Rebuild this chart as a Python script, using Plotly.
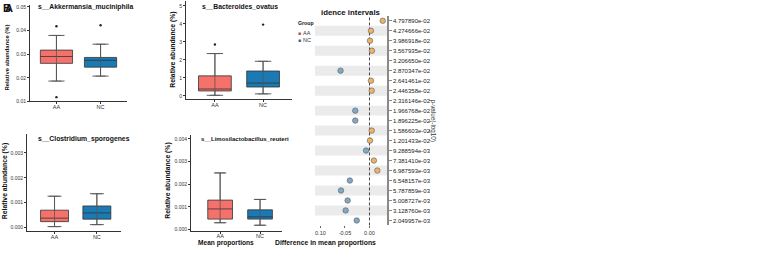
import plotly.graph_objects as go

W, H = 772, 257
FONT = "Liberation Sans, Arial, sans-serif"

# ---------------- data ----------------
groups = ["AA", "NC"]

akk_q1 = [0.0261, 0.0245]
akk_median = [0.0290, 0.0274]
akk_q3 = [0.0317, 0.0286]
akk_lower = [0.0186, 0.0207]
akk_upper = [0.0379, 0.0342]
akk_out_group = ["AA", "AA", "NC"]
akk_out_value = [0.0418, 0.0118, 0.0422]

bac_q1 = [0.27, 0.49]
bac_median = [0.38, 0.71]
bac_q3 = [1.11, 1.38]
bac_lower = [0.03, 0.11]
bac_upper = [2.35, 1.92]
bac_out_group = ["AA", "NC"]
bac_out_value = [2.85, 3.96]

clo_q1 = [0.00024, 0.00034]
clo_median = [0.00038, 0.00059]
clo_q3 = [0.00070, 0.00087]
clo_lower = [0.00004, 0.00012]
clo_upper = [0.00126, 0.00136]

lim_q1 = [0.00046, 0.00046]
lim_median = [0.00091, 0.00056]
lim_q3 = [0.00130, 0.00087]
lim_lower = [0.00030, 0.00019]
lim_upper = [0.00250, 0.00133]

pval_labels = [
    "4.797890e-02", "4.274666e-02", "3.986918e-02", "3.567935e-02",
    "3.206650e-02", "2.870347e-02", "2.641461e-02", "2.446358e-02",
    "2.316146e-02", "1.966768e-02", "1.896225e-02", "1.586603e-02",
    "1.201433e-02", "9.288594e-03", "7.381410e-03", "6.987593e-03",
    "6.548157e-03", "5.787859e-03", "5.008727e-03", "3.128760e-03",
    "2.049957e-03",
]
mean_diff = [
    0.027, 0.003, 0.001, 0.005, None, -0.059, 0.003, 0.0045, None,
    -0.029, -0.029, 0.0045, 0.001, -0.007, 0.009, 0.016, -0.040,
    -0.058, -0.0445, -0.0486, -0.026,
]
diff_ticks = [-0.10, -0.05, 0.00]
diff_ticktext = ["0.10", "-0.05", "0.00"]

# ---------------- styling ----------------
box_fill = {"AA": "#F4726B", "NC": "#1B7AB3"}
dot_pos = "#EDB368"
dot_neg = "#7FA9C8"


def dom_x(a, b):
    return [a / W, b / W]


def dom_y(top, bottom):
    return [1 - bottom / H, 1 - top / H]


fig = go.Figure()


def add_box_panel(n, q1, med, q3, lo, hi, bw, out_g=None, out_v=None):
    xa = "x" if n == 1 else f"x{n}"
    ya = "y" if n == 1 else f"y{n}"
    # whisker caps
    fig.add_trace(go.Scatter(
        x=groups, y=med, mode="markers", xaxis=xa, yaxis=ya,
        marker=dict(size=1, opacity=0), showlegend=False, hoverinfo="skip",
        error_y=dict(type="data", symmetric=False,
                     array=[h - m for h, m in zip(hi, med)],
                     arrayminus=[m - l for m, l in zip(med, lo)],
                     width=5, thickness=0.8, color="#555555"),
    ))
    for i, g in enumerate(groups):
        fig.add_trace(go.Box(
            x=[g], q1=[q1[i]], median=[med[i]], q3=[q3[i]],
            lowerfence=[lo[i]], upperfence=[hi[i]],
            xaxis=xa, yaxis=ya, width=bw, boxpoints=False,
            fillcolor=box_fill[g], line=dict(color="#333333", width=0.8),
            showlegend=False, hoverinfo="skip",
        ))
    if out_g:
        fig.add_trace(go.Scatter(
            x=out_g, y=out_v, mode="markers", xaxis=xa, yaxis=ya,
            marker=dict(size=2.4, color="#222222"), showlegend=False,
            hoverinfo="skip",
        ))


add_box_panel(1, akk_q1, akk_median, akk_q3, akk_lower, akk_upper, 0.73,
              akk_out_group, akk_out_value)
add_box_panel(2, bac_q1, bac_median, bac_q3, bac_lower, bac_upper, 0.68,
              bac_out_group, bac_out_value)
add_box_panel(3, clo_q1, clo_median, clo_q3, clo_lower, clo_upper, 0.66)
add_box_panel(4, lim_q1, lim_median, lim_q3, lim_lower, lim_upper, 0.62)

# difference dot plot
dot_colors = [dot_pos if (d is not None and d >= 0) else dot_neg for d in mean_diff]
fig.add_trace(go.Scatter(
    x=mean_diff, y=pval_labels, mode="markers", xaxis="x5", yaxis="y5",
    marker=dict(size=5.5, color=dot_colors, line=dict(color="#5a5a5a", width=0.6)),
    showlegend=False, hoverinfo="skip",
))

axis_common = dict(showline=True, linecolor="#333333", linewidth=0.9,
                   ticks="outside", ticklen=2, tickwidth=0.8, tickcolor="#333333",
                   showgrid=False, zeroline=False)
xcat = dict(axis_common, type="category", categoryarray=groups,
            ticklabelstandoff=-2,
            tickfont=dict(family=FONT, size=5.5, color="#333333"))
yfont = dict(family=FONT, size=5, color="#333333")

layout = dict(
    width=W, height=H, margin=dict(l=0, r=0, t=0, b=0),
    paper_bgcolor="white", plot_bgcolor="white", showlegend=False,
    boxmode="overlay", font=dict(family=FONT),
    xaxis=dict(xcat, domain=dom_x(30, 127), range=[-0.6, 1.6], anchor="y"),
    yaxis=dict(axis_common, domain=dom_y(4, 102), range=[0.01, 0.0508],
               tickvals=[0.01, 0.02, 0.03, 0.04, 0.05], tickformat=".2f",
               tickfont=yfont, anchor="x"),
    xaxis2=dict(xcat, domain=dom_x(186, 292), range=[-0.6, 1.6], anchor="y2"),
    yaxis2=dict(axis_common, domain=dom_y(0, 100), range=[-0.2, 5.27],
                tickvals=[0, 1, 2, 3, 4, 5], tickfont=yfont, anchor="x2"),
    xaxis3=dict(xcat, domain=dom_x(27, 121), range=[-0.65, 1.57], anchor="y3"),
    yaxis3=dict(axis_common, domain=dom_y(135, 234), range=[-0.00015, 0.00376],
                tickvals=[0, 0.001, 0.002, 0.003], tickformat=".3f",
                tickfont=yfont, anchor="x3"),
    xaxis4=dict(xcat, domain=dom_x(191, 282), range=[-0.73, 1.55], anchor="y4"),
    yaxis4=dict(axis_common, domain=dom_y(136, 233.3), range=[-0.00005, 0.00418],
                tickvals=[0, 0.001, 0.002, 0.003, 0.004], tickformat=".3f",
                tickfont=yfont, anchor="x4"),
    xaxis5=dict(domain=dom_x(315, 387), range=[-0.111, 0.0357], anchor="y5",
                tickvals=diff_ticks, ticktext=diff_ticktext, showline=False,
                ticks="outside", ticklen=2, tickcolor="#666666", showgrid=False,
                zeroline=False, tickfont=dict(family=FONT, size=5.5, color="#333333")),
    yaxis5=dict(domain=dom_y(15, 228), type="category", categoryarray=pval_labels,
                range=[len(pval_labels) - 0.5, -0.5], side="right", anchor="x5",
                showline=True, linecolor="#8a8a8a", linewidth=1.5,
                ticks="outside", ticklen=3, tickcolor="#8a8a8a", showgrid=False,
                zeroline=False, tickfont=dict(family=FONT, size=6, color="#222222")),
)
fig.update_layout(**layout)

# stripes
shapes = []
for i in range(len(pval_labels)):
    if i % 2 == 1:
        shapes.append(dict(type="rect", xref="x5 domain", yref="y5", x0=0, x1=1,
                           y0=i - 0.5, y1=i + 0.5, fillcolor="#ebebeb",
                           line=dict(width=0), layer="below"))
shapes.append(dict(type="line", xref="x5", yref="y5 domain", x0=0, x1=0, y0=0, y1=1,
                   line=dict(color="#444444", width=1, dash="3px,2px"), layer="below"))
fig.update_layout(shapes=shapes)


def ann(text, x, y, size, bold=False, angle=0, xanchor="center", color="#111111"):
    fig.add_annotation(
        text=f"<b>{text}</b>" if bold else text, x=x / W, y=1 - y / H,
        xref="paper", yref="paper", showarrow=False, textangle=angle,
        xanchor=xanchor, yanchor="middle",
        font=dict(family=FONT, size=size, color=color),
    )


ann("B", 0.5, 7, 11, bold=True, xanchor="left")
ann("A", 2.5, 7, 11, bold=True, xanchor="left")
ann("s__Akkermansia_muciniphila", 36, 6, 6.8, bold=True, xanchor="left")
ann("s__Bacteroides_ovatus", 200, 6, 6.8, bold=True, xanchor="left")
ann("s__Clostridium_sporogenes", 36, 140, 6.8, bold=True, xanchor="left")
ann("s__Limosilactobacillus_reuteri", 199, 140, 6.0, bold=True, xanchor="left")
ann("Relative abundance (%)", 7.5, 58, 5.9, bold=True, angle=-90)
ann("Relative abundance (%)", 173.5, 50, 6.8, bold=True, angle=-90)
ann("Relative abundance (%)", 5, 183, 6.8, bold=True, angle=-90)
ann("Relative abundance (%)", 168.5, 183, 6.8, bold=True, angle=-90)
ann("Mean proportions", 225.5, 246, 6.6, bold=True)
ann("Difference in mean proportions", 325, 245.5, 6.8, bold=True)
ann("idence intervals", 351, 12, 7.8, bold=True)
ann("p-value(-log10)", 432.5, 121, 6.3, angle=90, color="#333333")
ann("Group", 296, 22, 5.2, bold=True, xanchor="left")
ann("■", 296, 33, 5, xanchor="left", color="#a9545f")
ann("■", 296, 39.5, 5, xanchor="left", color="#2f6f80")
ann("AA", 301, 33, 5.5, xanchor="left", color="#333333")
ann("NC", 301, 39.5, 5.5, xanchor="left", color="#333333")

fig.write_html(
    "out.html",
    config={"displayModeBar": False},
    post_script="document.body.style.margin='0';document.body.style.overflow='hidden';",
)
